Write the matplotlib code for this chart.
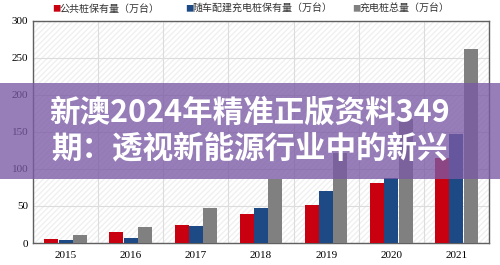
import numpy as np
import matplotlib.pyplot as plt
from matplotlib.patches import Rectangle

plt.rcParams['font.family'] = ['Noto Sans CJK SC', 'DejaVu Sans']

years = ['2015', '2016', '2017', '2018', '2019', '2020', '2021']
public = [5.8, 14.9, 24.0, 38.7, 51.6, 80.7, 114.7]
private = [4.5, 6.3, 23.2, 47.7, 70.3, 87.4, 147.0]
total = [10.3, 21.2, 47.2, 86.4, 121.9, 168.1, 261.7]
names = ['公共桩保有量（万台）', '随车配建充电桩保有量（万台）', '充电桩总量（万台）']
colors = ['#c8000f', '#1d4a85', '#808080']

fig = plt.figure(figsize=(5, 2.65), dpi=100)
ax = fig.add_axes([0.066, 0.083, 0.912, 0.838])

x = np.arange(len(years))
w = 0.215
for i, (vals, c) in enumerate(zip([public, private, total], colors)):
    ax.bar(x + (i - 1) * (w + 0.005), vals, w, color=c, zorder=3)

# faint hatched background
ax.add_patch(Rectangle((0, 0), 1, 1, transform=ax.transAxes, facecolor='white',
                       edgecolor='#f0f0f0', hatch='//////', lw=0, zorder=0))

ax.set_xlim(-0.5, len(years) - 0.5)
ax.set_ylim(0, 300)
ax.set_yticks(range(0, 301, 50))
ax.set_xticks(x)
ax.set_xticklabels(years)
ax.set_xticks(np.arange(0.5, len(years) - 0.5), minor=True)
ax.grid(axis='y', color='#dcdcdc', lw=0.8, zorder=1)
ax.grid(axis='x', which='minor', color='#dcdcdc', lw=0.8, zorder=1)
ax.tick_params(which='both', length=0)
ax.tick_params(axis='x', pad=6)
for lab in ax.get_xticklabels() + ax.get_yticklabels():
    lab.set_fontfamily('Liberation Serif')
    lab.set_fontsize(8)
for s in ax.spines.values():
    s.set_color('#606060')
    s.set_linewidth(1)

# legend row at top
lx = [0.105, 0.37, 0.705]
for xx, n, c in zip(lx, names, colors):
    fig.text(xx, 0.968, '■', color=c, fontsize=6, va='center', ha='left')
    fig.text(xx + 0.014, 0.968, n, color='#333333', fontsize=7.2, va='center', ha='left')

# purple overlay band with headline
fig.patches.append(Rectangle((0, 0.325), 1, 0.362, transform=fig.transFigure,
                             facecolor='#7b5aa6', alpha=0.78, lw=0, zorder=5))
fig.text(0.5, 0.574, '新澳2024年精准正版资料349', color='white', fontsize=22,
         fontweight='bold', ha='center', va='center', zorder=6)
fig.text(0.5, 0.44, '期：透视新能源行业中的新兴', color='white', fontsize=22,
         fontweight='bold', ha='center', va='center', zorder=6)

fig.savefig('out.png', dpi=100)
